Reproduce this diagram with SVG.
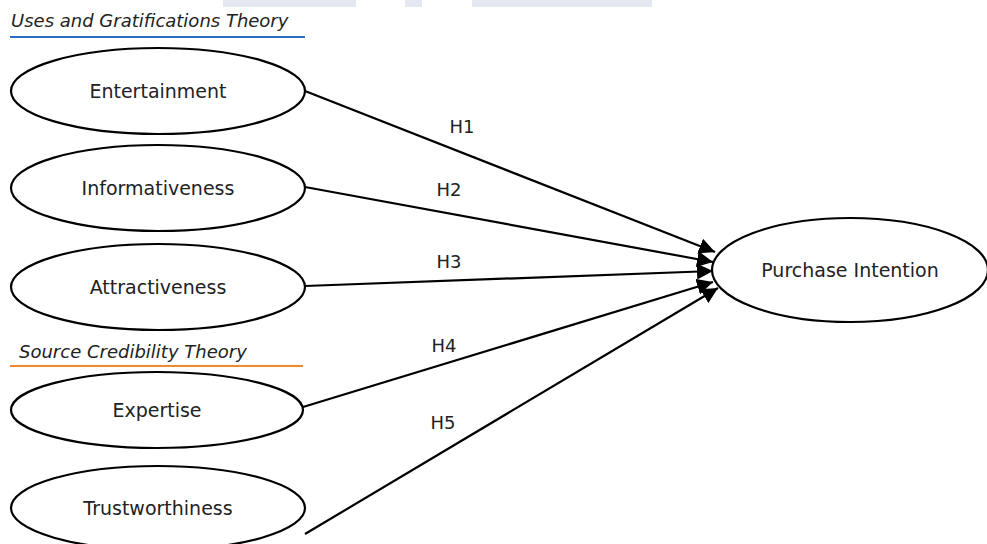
<svg xmlns="http://www.w3.org/2000/svg" width="987" height="544" viewBox="0 0 987 544">
<defs>
<marker id="arr" viewBox="0 0 10 10" refX="10" refY="5" markerWidth="16" markerHeight="16" markerUnits="userSpaceOnUse" orient="auto">
<path d="M0,0 L10,5 L0,10 z" fill="#000"/>
</marker>
<style>
.node ellipse{fill:#fff;stroke:#000;stroke-width:2.2}
.lbl{font-family:"DejaVu Sans",sans-serif;font-size:19px;fill:#222;text-anchor:middle}
.hd{font-family:"DejaVu Sans",sans-serif;font-size:18px;font-style:italic;fill:#222}
.edge{stroke:#000;stroke-width:2.2;fill:none;marker-end:url(#arr)}
.h{font-family:"DejaVu Sans",sans-serif;font-size:18px;fill:#222;text-anchor:middle}
</style>
</defs>
<rect width="987" height="544" fill="#fff"/>
<g id="topbars" fill="#e4e8f0">
<rect x="223" y="0" width="133" height="7"/>
<rect x="405" y="0" width="17" height="7"/>
<rect x="472" y="0" width="180" height="7"/>
</g>
<g id="header-ug">
<text class="hd" x="11" y="27">Uses and Gratifications Theory</text>
<line x1="10" y1="37" x2="305" y2="37" stroke="#2a6fc4" stroke-width="2"/>
</g>
<g id="header-sc">
<text class="hd" x="19" y="358">Source Credibility Theory</text>
<line x1="10" y1="366" x2="303" y2="366" stroke="#f08a2c" stroke-width="2"/>
</g>
<g id="connectors">
<line class="edge" x1="305" y1="91" x2="715" y2="252"/>
<line class="edge" x1="305" y1="187" x2="713" y2="262"/>
<line class="edge" x1="305" y1="286" x2="713" y2="271"/>
<line class="edge" x1="303" y1="407" x2="713" y2="282"/>
<line class="edge" x1="305" y1="534" x2="718" y2="288"/>
<text class="h" x="462" y="133">H1</text>
<text class="h" x="449" y="196">H2</text>
<text class="h" x="449" y="268">H3</text>
<text class="h" x="444" y="352">H4</text>
<text class="h" x="443" y="429">H5</text>
</g>
<g id="entertainment" class="node">
<ellipse cx="158" cy="91" rx="147" ry="43"/>
<text class="lbl" x="158" y="98">Entertainment</text>
</g>
<g id="informativeness" class="node">
<ellipse cx="158" cy="188" rx="147" ry="43"/>
<text class="lbl" x="158" y="195">Informativeness</text>
</g>
<g id="attractiveness" class="node">
<ellipse cx="158" cy="287" rx="147" ry="43"/>
<text class="lbl" x="158" y="294">Attractiveness</text>
</g>
<g id="expertise" class="node">
<ellipse cx="157" cy="410" rx="146" ry="38"/>
<text class="lbl" x="157" y="417">Expertise</text>
</g>
<g id="trustworthiness" class="node">
<ellipse cx="158" cy="508" rx="147" ry="42"/>
<text class="lbl" x="158" y="515">Trustworthiness</text>
</g>
<g id="purchase-intention" class="node">
<ellipse cx="850" cy="270" rx="138" ry="52"/>
<text class="lbl" x="850" y="277">Purchase Intention</text>
</g>
</svg>
